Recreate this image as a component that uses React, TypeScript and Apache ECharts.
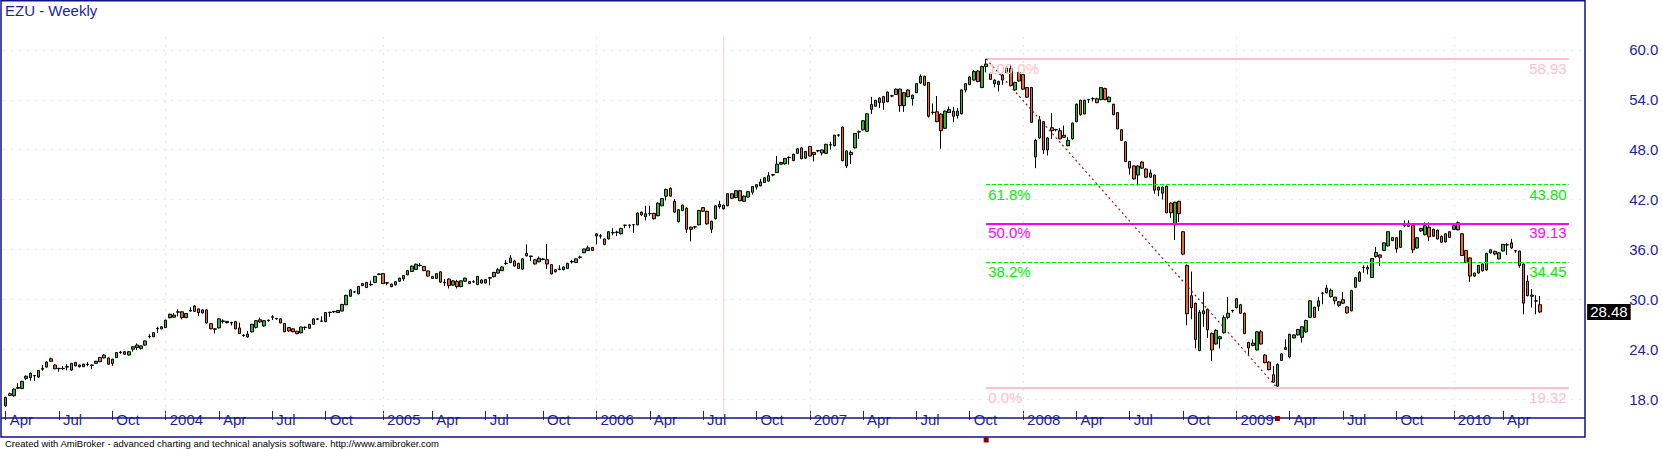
import React, { useEffect, useRef } from "react";
import * as echarts from "echarts";

// Weekly bars, each [open, close, low, high]
const bars2003: number[][] = [
  [17.2, 18.2, 17.05, 18.3], [18.65, 18.45, 18.35, 18.8], [18.4, 19.2, 18.3, 19.3], [19.3, 19.4, 19.2, 19.9],
  [19.27, 20.14, 19.2, 20.2], [20.5, 20.75, 20.3, 20.85], [20.6, 21.1, 20.2, 21.2], [20.85, 20.8, 20.2, 20.9],
  [20.65, 21.45, 20.6, 21.5], [21.6, 21.7, 21.4, 22.1], [21.85, 22.45, 21.8, 22.55], [22.85, 22.55, 22.5, 23.0],
  [22.1, 21.65, 21.6, 22.2], [21.7, 21.65, 21.3, 21.75], [21.65, 21.7, 21.5, 22.0], [21.9, 21.85, 21.45, 22.2],
  [21.5, 22.3, 21.4, 22.35], [22.4, 22.0, 21.95, 22.5], [22.1, 21.9, 21.8, 22.15], [21.9, 22.2, 21.85, 22.25],
  [22.15, 22.2, 21.95, 22.45], [22.1, 22.05, 21.6, 22.15], [22.3, 22.55, 22.25, 22.6], [23.0, 22.5, 22.45, 23.05],
  [22.95, 23.3, 22.9, 23.4], [22.95, 22.2, 22.15, 23.0], [22.3, 22.8, 22.0, 22.85], [23.0, 23.6, 22.95, 23.65],
  [23.6, 23.65, 23.45, 23.8], [23.7, 23.4, 23.3, 23.75], [23.3, 23.7, 23.25, 23.75], [24.0, 24.3, 23.7, 24.35],
  [24.2, 24.5, 23.9, 24.7], [24.1, 24.4, 23.95, 24.45], [24.5, 25.0, 24.45, 25.05], [25.5, 25.55, 25.3, 25.8],
  [25.5, 26.0, 25.45, 26.05], [26.45, 26.5, 25.95, 26.7], [26.45, 26.7, 26.4, 26.75],
];
const bars2004: number[][] = [
  [26.6, 27.5, 26.55, 27.55], [27.8, 28.2, 27.7, 28.3], [28.1, 27.85, 27.8, 28.35], [28.45, 28.5, 27.95, 28.8],
  [28.5, 27.8, 27.6, 28.55], [27.8, 28.3, 27.75, 28.35], [28.6, 28.65, 28.5, 29.05], [29.2, 28.55, 28.5, 29.3],
  [28.85, 28.4, 28.0, 28.9], [28.37, 28.73, 28.3, 28.8], [28.73, 27.17, 27.1, 28.8], [27.07, 26.45, 26.4, 27.1],
  [26.4, 26.45, 25.9, 26.5], [26.56, 27.65, 26.5, 27.7], [27.4, 27.35, 27.1, 27.6], [27.35, 27.2, 27.1, 27.4],
  [27.2, 27.15, 26.85, 27.3], [27.32, 26.45, 26.4, 27.4], [26.56, 25.9, 25.85, 27.2], [25.65, 25.7, 25.5, 25.8],
  [25.47, 25.83, 25.4, 26.2], [26.09, 27.0, 26.0, 27.05], [26.63, 27.43, 26.5, 27.5], [27.54, 27.28, 27.2, 27.8],
  [26.8, 27.43, 26.7, 27.5], [27.45, 27.5, 27.3, 27.55], [27.9, 27.85, 27.5, 28.1], [27.65, 27.7, 27.55, 27.75],
  [27.65, 27.17, 27.1, 27.7], [27.1, 26.1, 26.05, 27.15], [26.6, 26.2, 26.1, 26.65], [26.45, 26.1, 26.05, 26.5],
  [26.16, 25.87, 25.8, 26.2], [25.98, 26.67, 25.9, 26.7], [26.6, 26.65, 26.3, 26.75], [26.52, 26.99, 26.45, 27.05],
  [26.99, 27.65, 26.95, 27.7], [27.6, 27.65, 27.5, 27.7], [27.4, 27.35, 27.3, 27.95], [27.32, 28.41, 27.25, 28.45],
  [28.41, 28.45, 27.9, 28.5], [28.5, 28.55, 28.35, 28.6], [28.41, 28.66, 28.35, 28.7], [28.59, 29.39, 28.55, 29.45],
  [29.35, 30.48, 29.3, 30.55], [30.37, 31.13, 30.3, 31.2], [30.87, 30.9, 30.75, 31.0], [30.66, 31.56, 30.6, 31.6],
  [31.64, 31.89, 31.6, 31.95], [32.03, 31.42, 31.35, 32.1], [31.75, 31.8, 31.6, 32.25], [32.03, 32.76, 31.95, 32.8],
  [33.0, 33.05, 32.9, 33.1],
];
const bars2005: number[][] = [
  [33.09, 31.89, 31.85, 33.15], [32.0, 31.95, 31.7, 32.05], [31.82, 31.53, 31.45, 31.9], [31.75, 32.12, 31.65, 32.2],
  [32.18, 32.55, 32.1, 32.6], [32.47, 32.87, 32.2, 32.9], [32.95, 33.45, 32.9, 33.5], [33.35, 34.0, 33.3, 34.05],
  [33.6, 34.22, 33.55, 34.3], [34.05, 34.1, 33.95, 34.35], [33.96, 33.45, 33.4, 34.0], [33.42, 32.8, 32.75, 33.45],
  [32.76, 32.51, 32.45, 32.8], [32.51, 33.09, 32.45, 33.15], [33.31, 32.07, 32.0, 33.35], [32.0, 32.05, 31.6, 32.45],
  [32.44, 31.67, 31.3, 32.5], [31.71, 32.22, 31.65, 32.3], [32.15, 31.53, 31.3, 32.35], [31.53, 32.22, 31.45, 32.3],
  [32.18, 32.55, 32.1, 32.6], [32.15, 31.89, 31.85, 32.2], [32.1, 32.12, 31.98, 32.3], [31.78, 32.76, 31.7, 32.8],
  [32.33, 31.96, 31.9, 32.4], [31.96, 32.37, 31.9, 32.45], [32.55, 32.6, 31.7, 32.65], [32.73, 33.24, 32.65, 33.3],
  [33.16, 33.56, 33.1, 33.75], [33.45, 33.89, 33.4, 34.0], [34.3, 34.35, 34.15, 34.72], [34.43, 34.98, 34.35, 35.3],
  [34.61, 34.0, 33.95, 34.75], [34.32, 33.71, 33.65, 34.4], [33.63, 34.87, 33.55, 34.95], [35.23, 35.52, 35.15, 36.61],
  [35.16, 35.2, 34.6, 35.25], [34.76, 34.25, 34.2, 34.85], [34.51, 34.94, 34.45, 35.15], [34.8, 34.85, 34.7, 34.95],
  [34.76, 34.25, 33.63, 36.68], [34.18, 33.05, 33.0, 34.25], [33.31, 33.56, 33.25, 33.6], [33.6, 33.65, 33.5, 34.1],
  [33.56, 33.89, 33.5, 33.95], [33.71, 34.32, 33.65, 34.4], [34.5, 34.55, 34.3, 34.75], [34.43, 34.87, 34.35, 34.95],
  [35.05, 35.1, 34.9, 35.25], [35.6, 36.06, 35.55, 36.1], [35.88, 36.19, 35.8, 36.45], [36.24, 35.88, 35.8, 36.3],
];
const bars2006: number[][] = [
  [37.62, 37.88, 36.6, 37.95], [37.6, 37.65, 37.3, 37.85], [37.26, 36.6, 36.5, 37.3], [37.26, 38.13, 37.2, 38.2],
  [37.99, 38.02, 37.7, 38.55], [38.05, 38.08, 37.6, 38.25], [37.88, 38.53, 37.8, 38.6], [38.9, 38.92, 38.55, 38.98],
  [38.9, 38.93, 38.55, 38.98], [38.96, 38.98, 38.0, 39.05], [38.96, 40.38, 38.9, 40.45], [40.49, 40.16, 40.05, 40.55],
  [39.94, 40.3, 39.5, 41.25], [40.3, 40.33, 40.05, 41.25], [40.34, 39.69, 39.6, 40.4], [40.05, 41.57, 40.0, 41.65],
  [41.25, 42.12, 41.2, 42.2], [42.41, 43.21, 41.9, 43.3], [43.35, 42.41, 42.35, 43.45], [41.79, 40.49, 40.4, 42.05],
  [39.33, 40.78, 39.25, 40.85], [40.7, 41.32, 40.6, 41.4], [40.96, 38.42, 38.0, 41.05], [38.67, 38.42, 36.97, 38.75],
  [38.7, 38.72, 38.5, 38.8], [38.96, 40.7, 38.9, 40.75], [41.03, 40.59, 40.5, 41.1], [40.59, 39.07, 39.0, 40.65],
  [38.42, 39.4, 37.97, 39.45], [39.69, 41.25, 39.6, 41.3], [41.14, 41.43, 40.9, 41.85], [41.32, 40.88, 40.8, 41.4],
  [41.25, 42.7, 41.2, 42.75], [42.7, 42.15, 42.1, 42.75], [42.23, 43.06, 42.15, 43.1], [43.06, 41.86, 41.8, 43.1],
  [41.79, 42.41, 41.75, 42.5], [42.3, 42.95, 42.25, 43.0], [42.88, 43.57, 42.6, 43.6], [43.5, 43.79, 43.2, 43.85],
  [43.64, 44.11, 43.6, 44.5], [44.04, 44.62, 44.0, 44.7], [44.22, 44.87, 44.15, 45.3], [44.95, 44.98, 44.8, 45.05],
  [45.24, 46.25, 45.2, 47.25], [46.25, 46.45, 46.2, 46.55], [46.3, 46.95, 46.2, 47.0], [47.05, 47.08, 46.2, 47.2],
  [46.69, 47.45, 46.6, 47.5], [47.56, 48.1, 47.5, 48.2], [48.21, 46.91, 46.85, 48.35], [46.98, 47.78, 46.9, 47.85],
];
const bars2007: number[][] = [
  [48.39, 47.23, 47.2, 48.45], [47.41, 47.67, 46.6, 47.7], [47.85, 47.88, 47.7, 47.95], [47.96, 47.6, 47.3, 48.0],
  [47.56, 48.65, 47.5, 48.7], [48.55, 48.6, 48.0, 48.95], [48.47, 49.74, 48.4, 49.8], [49.74, 49.77, 49.55, 49.85],
  [50.71, 46.69, 46.6, 50.8], [46.04, 47.85, 45.8, 47.9], [47.67, 47.41, 46.3, 47.9], [48.21, 49.95, 48.15, 50.0],
  [50.13, 50.16, 49.3, 50.3], [50.39, 51.48, 50.3, 51.55], [50.21, 52.31, 50.15, 52.4], [52.85, 53.43, 52.3, 54.35],
  [53.22, 53.91, 53.2, 54.0], [53.65, 54.2, 53.0, 54.3], [54.38, 53.65, 52.8, 54.45], [53.76, 54.92, 53.7, 55.0],
  [54.45, 54.48, 54.3, 54.6], [54.63, 55.28, 54.6, 55.35], [55.28, 53.29, 52.55, 55.35], [53.29, 54.85, 52.55, 54.95],
  [55.18, 54.38, 54.3, 55.25], [54.12, 54.56, 53.3, 54.6], [54.85, 55.94, 54.8, 56.0], [56.01, 56.81, 55.9, 57.05],
  [56.81, 55.76, 55.7, 56.9], [56.08, 52.02, 51.85, 56.15], [52.46, 52.5, 52.2, 53.55], [52.56, 51.37, 51.3, 54.45],
  [52.27, 50.28, 48.1, 52.35], [50.57, 52.64, 50.5, 52.7], [52.46, 52.82, 52.4, 53.2], [52.64, 52.02, 51.3, 53.15],
  [52.09, 52.64, 51.75, 53.0], [52.31, 55.18, 52.25, 55.25], [55.18, 55.94, 54.9, 56.0], [55.83, 56.74, 55.75, 56.8],
  [56.37, 57.39, 56.3, 57.55], [57.46, 56.19, 56.1, 57.55], [55.47, 58.0, 55.4, 58.1], [58.0, 58.3, 57.3, 58.93],
  [57.17, 56.45, 56.4, 57.25], [55.94, 56.37, 55.5, 56.45], [55.83, 56.19, 55.0, 56.3], [56.37, 56.99, 55.8, 57.1],
  [57.28, 57.82, 57.2, 58.0], [57.75, 55.72, 55.65, 58.2], [55.18, 56.08, 55.1, 56.15], [57.28, 56.26, 56.2, 57.4],
];
const bars2008: number[][] = [
  [57.03, 55.28, 55.2, 57.1], [55.47, 54.31, 54.25, 55.5], [55.47, 51.29, 51.25, 55.55], [47.12, 49.12, 45.78, 49.3],
  [49.41, 51.59, 49.3, 52.05], [51.37, 47.96, 47.5, 51.4], [47.96, 49.41, 47.3, 49.5], [50.64, 50.28, 49.3, 52.4],
  [50.39, 50.42, 50.2, 50.5], [50.28, 49.3, 49.25, 50.6], [49.48, 49.73, 49.4, 50.9], [48.47, 49.12, 48.4, 49.5],
  [49.3, 51.19, 49.2, 51.25], [51.37, 53.47, 51.3, 53.55], [53.94, 52.2, 52.1, 54.0], [52.31, 53.94, 52.25, 54.0],
  [54.0, 54.03, 53.6, 54.1], [54.12, 54.15, 53.8, 54.3], [54.12, 53.65, 53.6, 54.25], [54.02, 55.47, 53.95, 55.5],
  [55.36, 54.02, 53.95, 55.45], [53.76, 54.31, 53.7, 54.4], [53.47, 52.2, 52.15, 53.5], [52.46, 50.5, 50.45, 52.5],
  [50.39, 49.12, 49.05, 50.45], [48.94, 46.58, 46.5, 49.0], [46.58, 45.78, 45.0, 46.65], [46.04, 44.48, 44.4, 46.1],
  [44.95, 46.04, 43.7, 46.15], [46.51, 45.78, 45.7, 46.6], [45.67, 44.69, 44.6, 45.75], [44.69, 45.2, 44.6, 45.6],
  [44.95, 43.13, 42.7, 45.0], [43.13, 43.5, 42.4, 43.55], [42.77, 43.5, 42.0, 43.55], [43.6, 40.41, 40.35, 43.65],
  [41.57, 40.41, 39.8, 41.65], [38.96, 41.68, 37.15, 41.75], [41.79, 40.3, 39.3, 41.85], [38.13, 35.44, 35.3, 38.2],
  [34.06, 28.26, 26.88, 34.2], [30.44, 28.99, 27.6, 33.34], [29.53, 25.18, 24.1, 29.6], [23.84, 28.44, 23.75, 28.7],
  [28.26, 28.62, 26.7, 30.91], [28.8, 26.34, 25.35, 28.9], [25.9, 23.91, 22.57, 26.0], [24.63, 26.27, 24.55, 26.4],
  [25.25, 25.5, 24.1, 25.6], [25.98, 27.79, 25.9, 28.08], [27.83, 28.33, 27.6, 30.26], [28.62, 28.65, 28.4, 28.75],
];
const bars2009: number[][] = [
  [28.99, 30.07, 28.9, 30.15], [29.35, 28.33, 28.25, 29.45], [28.33, 25.9, 25.8, 28.4], [24.81, 24.16, 23.25, 24.9],
  [24.45, 24.74, 24.35, 25.18], [23.91, 26.09, 23.85, 26.15], [26.09, 24.63, 24.55, 26.3], [23.29, 22.38, 22.3, 23.4],
  [22.46, 21.55, 21.45, 22.55], [20.93, 20.03, 19.95, 21.99], [19.56, 22.17, 19.32, 22.3], [22.64, 23.44, 22.6, 23.5],
  [24.2, 23.98, 23.9, 25.2], [23.07, 25.8, 22.9, 25.85], [25.36, 25.72, 25.3, 25.8], [25.72, 26.37, 25.65, 26.45],
  [25.43, 26.7, 24.8, 26.75], [26.08, 27.46, 26.0, 27.55], [27.83, 29.82, 27.75, 29.9], [29.06, 27.83, 27.75, 29.1],
  [29.17, 29.82, 28.6, 30.3], [30.73, 30.76, 29.4, 30.85], [31.34, 30.8, 30.7, 31.75], [30.33, 31.09, 30.2, 31.3],
  [30.26, 29.82, 29.4, 30.3], [29.28, 29.71, 29.1, 29.8], [29.96, 29.53, 29.45, 30.9], [29.09, 28.37, 28.3, 29.15],
  [28.62, 31.05, 28.55, 31.15], [31.45, 32.61, 31.35, 32.7], [32.18, 33.23, 32.1, 33.4], [33.81, 33.84, 33.2, 34.1],
  [33.64, 33.85, 33.0, 34.1], [32.62, 34.9, 32.55, 34.95], [35.16, 35.63, 35.0, 36.3], [35.34, 35.05, 34.0, 35.4],
  [35.88, 36.79, 35.8, 36.85], [36.43, 38.13, 36.35, 38.2], [37.44, 37.08, 37.0, 37.5], [37.41, 36.07, 35.6, 37.5],
  [36.25, 38.24, 36.2, 38.3], [38.85, 38.88, 38.7, 39.5], [39.15, 38.78, 38.7, 39.5], [38.86, 35.96, 35.55, 38.9],
  [36.17, 37.41, 36.1, 37.5], [38.24, 38.53, 38.1, 38.6], [37.77, 38.85, 37.7, 39.25], [38.67, 37.52, 37.0, 39.25],
  [37.59, 38.42, 37.5, 38.5], [38.31, 37.26, 37.2, 38.4], [37.59, 36.87, 36.8, 37.65], [36.9, 37.88, 36.85, 37.95],
  [38.13, 37.44, 37.4, 38.2],
];
const bars2010: number[][] = [
  [38.42, 38.85, 38.35, 38.9], [39.22, 38.35, 38.3, 39.35], [37.88, 35.27, 35.2, 37.95], [35.88, 34.43, 34.35, 35.95],
  [34.98, 32.8, 32.1, 35.05], [32.8, 33.16, 32.7, 33.2], [33.16, 34.07, 33.1, 34.15], [34.25, 33.42, 33.35, 34.3],
  [33.53, 35.52, 33.45, 35.6], [35.59, 35.96, 35.5, 36.0], [35.77, 35.45, 35.3, 35.85], [34.87, 35.59, 34.8, 35.65],
  [35.81, 36.61, 35.75, 36.65], [36.54, 36.56, 35.35, 36.8], [36.79, 36.17, 36.1, 37.28], [35.81, 35.84, 35.6, 35.95],
  [35.81, 34.07, 33.8, 35.85], [34.25, 29.54, 28.2, 34.3], [32.18, 30.44, 30.35, 32.9], [30.52, 30.37, 29.0, 31.25],
  [29.79, 29.82, 28.2, 30.5], [29.35, 28.48, 28.35, 30.4],
];

const FIRST_BAR_UTC = Date.UTC(2003, 3, 4); // first weekly bar (Friday)
const PAD_WEEKS = 11; // empty room to the right of the last bar
const MONTHS = ["Jan", "Feb", "Mar", "Apr", "May", "Jun", "Jul", "Aug", "Sep", "Oct", "Nov", "Dec"];

const fibRatios = [1, 0.618, 0.5, 0.382, 0];
const fibPctLabels = ["100.0%", "61.8%", "50.0%", "38.2%", "0.0%"];
const fibColors = ["#ffc0cb", "#00ee00", "#ff00ff", "#00ee00", "#ffc0cb"];
const fibLineTypes = ["solid", "dashed", "solid", "dashed", "solid"];
const fibLineWidths = [2, 1, 2.2, 1, 2];
const fibHighIndex = 239;
const fibLowIndex = 310;
const fibEndIndex = 381;
const cursorIndex = 175;

const TITLE = "EZU - Weekly";
const FOOTER =
  "Created with AmiBroker - advanced charting and technical analysis software. http://www.amibroker.com";

const FONT = 'Arial, "Liberation Sans", Helvetica, sans-serif';
const NAVY = "#1f1fa0";
const FRAME = "#10108c";
const GRID_DOT = "#a4dedb";
const UP = "#2fb52f";
const DOWN = "#f8651f";

// layout
const W = 1662;
const H = 449;
const GRID_LEFT = 3.65;
const GRID_WIDTH = 1583.5;
const PX_PER_UNIT = 9.19;
const Y_MIN = 12;
const Y_MAX = 66;
const Y_STEP = 6;
const Y60_PX = 15;
const GRID_TOP = Y60_PX - (Y_MAX - 60) * PX_PER_UNIT;
const GRID_HEIGHT = (Y_MAX - Y_MIN) * PX_PER_UNIT;
const AXIS_Y = 418;
const FRAME_RIGHT = 1585;
const FRAME_BOTTOM = 437;

export default function App() {
  const ref = useRef<HTMLDivElement>(null);

  useEffect(() => {
    if (!ref.current) return;
    const bars = [...bars2003, ...bars2004, ...bars2005, ...bars2006, ...bars2007, ...bars2008, ...bars2009, ...bars2010];
    const n = bars.length;
    const total = n + PAD_WEEKS;

    const categories: string[] = [];
    for (let i = 0; i < total; i++) {
      const d = new Date(FIRST_BAR_UTC + i * 7 * 86400000);
      if (d.getUTCMonth() === 0 && d.getUTCDate() === 1) d.setUTCDate(0); // holiday: last trading day
      categories.push(d.toISOString().slice(0, 10));
    }
    const labelText = categories.map((c, i) => {
      if (i >= n) return "";
      const m = +c.slice(5, 7) - 1;
      if (i > 0 && +categories[i - 1].slice(5, 7) - 1 === m) return "";
      if (m % 3 !== 0) return "";
      return m === 0 ? c.slice(0, 4) : MONTHS[m];
    });
    const yearIdx = labelText.map((t, i) => (/^\d{4}$/.test(t) ? i : -1)).filter((i) => i >= 0);

    const visTop = 60 + (Y60_PX - 0) / PX_PER_UNIT;
    const visBottom = 60 - (AXIS_Y - Y60_PX) / PX_PER_UNIT;

    const fibHigh = bars[fibHighIndex][3];
    const fibLow = bars[fibLowIndex][2];
    const lastClose = bars[n - 1][1];

    const vLine = (i: number, color: string, type: any) => [
      { coord: [i, visBottom], lineStyle: { color, type, width: 1 }, label: { show: false } },
      { coord: [i, visTop] },
    ];

    const fibItems: any[] = [];
    fibRatios.forEach((r, k) => {
      const v = fibLow + r * (fibHigh - fibLow);
      const ls = { color: fibColors[k], type: fibLineTypes[k], width: fibLineWidths[k] };
      const lab = { show: true, color: fibColors[k], fontSize: 15, fontFamily: FONT, distance: 2 };
      fibItems.push([
        { coord: [fibHighIndex, v], lineStyle: ls, label: { ...lab, position: "insideStartBottom", formatter: fibPctLabels[k] } },
        { coord: [fibEndIndex, v] },
      ]);
      fibItems.push([
        { coord: [fibHighIndex, v], lineStyle: ls, label: { ...lab, position: "insideEndBottom", formatter: v.toFixed(2) } },
        { coord: [fibEndIndex, v] },
      ]);
    });
    fibItems.push([
      { coord: [fibHighIndex, fibHigh], lineStyle: { color: "#a81010", type: [2, 3], width: 1.2 }, label: { show: false } },
      { coord: [fibLowIndex, fibLow] },
    ]);
    fibItems.push({
      yAxis: lastClose,
      lineStyle: { color: "rgba(0,0,0,0)", width: 0 },
      label: {
        show: true,
        position: "end",
        distance: 0,
        formatter: lastClose.toFixed(2),
        color: "#fff",
        backgroundColor: "#000",
        fontSize: 15,
        fontFamily: FONT,
        padding: [1, 3, 0, 3],
      },
    });

    const chart = echarts.init(ref.current, undefined, { renderer: "svg", width: W, height: H });
    chart.setOption({
      animation: false,
      backgroundColor: "#fff",
      title: {
        text: TITLE,
        left: 5,
        top: 3,
        padding: 0,
        textStyle: { fontSize: 15, fontWeight: "normal", color: NAVY, fontFamily: FONT },
      },
      grid: { left: GRID_LEFT, top: GRID_TOP, width: GRID_WIDTH, height: GRID_HEIGHT },
      xAxis: {
        type: "category",
        data: categories,
        boundaryGap: true,
        offset: AXIS_Y - (GRID_TOP + GRID_HEIGHT),
        axisLine: { show: false },
        axisTick: {
          show: true,
          alignWithLabel: true,
          length: 9,
          interval: (i: number) => !!labelText[i],
          lineStyle: { color: NAVY, width: 1 },
        },
        axisLabel: {
          interval: (i: number) => !!labelText[i],
          formatter: (_v: string, i: number) => labelText[i],
          align: "left",
          margin: 1,
          padding: [0, 0, 0, 4],
          color: NAVY,
          fontSize: 15,
          fontFamily: FONT,
        },
        splitLine: { show: false },
      },
      yAxis: {
        type: "value",
        position: "right",
        min: Y_MIN,
        max: Y_MAX,
        interval: Y_STEP,
        axisLine: { show: false },
        axisTick: { show: false },
        axisLabel: {
          margin: 42,
          color: NAVY,
          fontSize: 15,
          fontFamily: FONT,
          formatter: (v: number) => (v < 18 || v > 60 ? "" : v.toFixed(1)),
        },
        splitLine: { show: true, lineStyle: { color: GRID_DOT, type: [1, 7], width: 1 } },
      },
      series: [
        {
          type: "candlestick",
          data: bars,
          barWidth: 3,
          itemStyle: { color: UP, color0: DOWN, borderColor: "#000", borderColor0: "#000", borderWidth: 1 },
          markLine: {
            z: 1,
            silent: true,
            symbol: ["none", "none"],
            animation: false,
            data: [...yearIdx.map((i) => vLine(i, GRID_DOT, [1, 7])), vLine(cursorIndex, "#f7d6d6", "solid")],
          },
        },
        {
          type: "line",
          data: [],
          showSymbol: false,
          markLine: {
            z: 5,
            silent: true,
            symbol: ["none", "none"],
            animation: false,
            data: fibItems,
          },
        },
      ],
      graphic: [
        {
          id: "frame",
          type: "rect",
          silent: true,
          shape: { x: 1, y: 0.75, width: FRAME_RIGHT - 1, height: FRAME_BOTTOM - 0.75 },
          style: { fill: "none", stroke: FRAME, lineWidth: 1.5 },
          z: 10,
        },
        {
          id: "xaxisline",
          type: "line",
          silent: true,
          shape: { x1: 1, y1: AXIS_Y, x2: FRAME_RIGHT, y2: AXIS_Y },
          style: { stroke: FRAME, lineWidth: 1.5 },
          z: 10,
        },
        {
          id: "footer",
          type: "text",
          silent: true,
          left: 5,
          top: FRAME_BOTTOM + 1,
          style: { text: FOOTER, fontSize: 9.5, fill: "#000", fontFamily: FONT },
          z: 10,
        },
      ],
    });

    const xHigh = chart.convertToPixel({ xAxisIndex: 0 }, fibHighIndex) as number;
    const xLow = chart.convertToPixel({ xAxisIndex: 0 }, fibLowIndex) as number;
    chart.setOption({
      graphic: [
        {
          id: "selHigh",
          type: "rect",
          silent: true,
          shape: { x: xHigh - 2.5, y: FRAME_BOTTOM + 0.5, width: 5, height: 5 },
          style: { fill: "#8b0000" },
          z: 11,
        },
        {
          id: "selLow",
          type: "rect",
          silent: true,
          shape: { x: xLow - 2.5, y: AXIS_Y - 2, width: 5, height: 5 },
          style: { fill: "#8b0000" },
          z: 11,
        },
      ],
    });

    return () => chart.dispose();
  }, []);

  return <div ref={ref} style={{ position: "absolute", left: 0, top: 0, width: W, height: H }} />;
}
